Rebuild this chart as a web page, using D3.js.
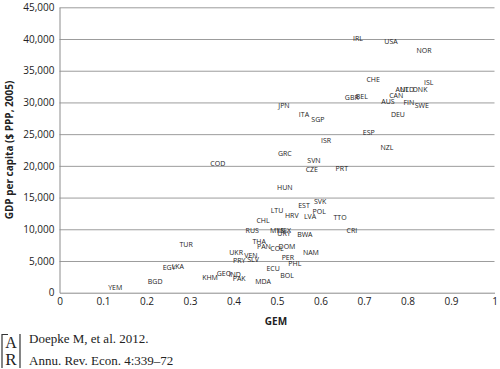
<!DOCTYPE html>
<html>
<head>
<meta charset="utf-8">
<script src="https://cdn.jsdelivr.net/npm/d3@7"></script>
<style>
	body { margin:0; background:#fff; }
	svg { display:block; }
</style>
</head>
<body>
<div id="chart"></div>
<script>
// country codes, GEM index, GDP per capita ($ PPP 2005)
var countries = ["IRL","USA","NOR","CHE","ISL","AUT","NLD","DNK","CAN","GBR","BEL","AUS","FIN","SWE",
	"JPN","ITA","SGP","DEU","ESP","ISR","NZL","GRC","SVN","CZE","PRT","COD","HUN","SVK","EST","POL",
	"LTU","HRV","LVA","TTO","CHL","CRI","RUS","MYS","MEX","URY","BWA","THA","PAN","COL","DOM","NAM",
	"UKR","VEN","PRY","SLV","PER","PHL","ECU","BOL","MDA","KHM","GEO","IND","PAK","TUR","EGY","LKA",
	"BGD","YEM"];
var gem = [0.686,0.762,0.838,0.721,0.849,0.788,0.799,0.829,0.774,0.672,0.695,0.755,0.803,0.833,
	0.516,0.562,0.594,0.778,0.711,0.613,0.753,0.518,0.585,0.580,0.649,0.364,0.518,0.599,0.562,0.597,
	0.500,0.534,0.576,0.645,0.468,0.672,0.443,0.500,0.516,0.516,0.564,0.459,0.470,0.500,0.523,0.578,
	0.406,0.440,0.413,0.445,0.525,0.541,0.491,0.523,0.468,0.346,0.378,0.403,0.413,0.291,0.252,0.272,
	0.220,0.128];
var gdp = [40000,39530,38160,33540,33070,31960,31960,31960,31020,30750,30900,30070,29910,29440,
	29440,28130,27230,28130,25290,23970,22820,21870,20770,19350,19500,20290,16620,14350,13780,12840,
	12930,12140,11940,11830,11420,9780,9840,9840,9840,9260,9210,8100,7250,7000,7250,6370,
	6370,5900,5050,5160,5520,4530,3850,2630,1690,2430,2950,2790,2160,7570,3940,4050,
	1730,850];
var yTicks = [0,5000,10000,15000,20000,25000,30000,35000,40000,45000];
var xTicks = [0,0.1,0.2,0.3,0.4,0.5,0.6,0.7,0.8,0.9,1];

var W = 500, H = 369;
var plot = {left:59.5, right:494.5, top:7.3, bottom:292.7};

var svg = d3.select("#chart").append("svg")
	.attr("width", W)
	.attr("height", H)
	.style("font-family", "'Open Sans', sans-serif");

var x = d3.scaleLinear().domain([0,1]).range([plot.left, plot.right]);
var y = d3.scaleLinear().domain([0,45000]).range([plot.bottom, plot.top]);

// horizontal gridlines
svg.append("g")
	.attr("transform", "translate(" + plot.left + ",0)")
	.call(d3.axisLeft(y).tickValues(yTicks.slice(1)).tickSize(-(plot.right-plot.left)).tickFormat(""))
	.call(function(g){ g.select(".domain").remove(); })
	.selectAll("line").attr("stroke", "#9c9c9c").attr("stroke-width", 1);

// y axis
var yAxis = svg.append("g")
	.attr("transform", "translate(" + plot.left + ",0)")
	.call(d3.axisLeft(y).tickValues(yTicks).tickSize(0).tickPadding(5).tickFormat(d3.format(",")));
yAxis.select(".domain").attr("stroke", "#8c8c8c");
yAxis.selectAll("text").attr("font-size", 10).attr("fill", "#222").attr("font-family", "'Open Sans', sans-serif");

// x axis
var xAxis = svg.append("g")
	.attr("transform", "translate(0," + plot.bottom + ")")
	.call(d3.axisBottom(x).tickValues(xTicks).tickSize(0).tickPadding(5).tickFormat(d3.format("")));
xAxis.select(".domain").attr("stroke", "#8c8c8c");
xAxis.selectAll("text").attr("font-size", 10).attr("fill", "#222").attr("font-family", "'Open Sans', sans-serif");

// axis titles
svg.append("text")
	.attr("x", (plot.left+plot.right)/2 - 1)
	.attr("y", 325)
	.attr("text-anchor", "middle")
	.attr("font-size", 10)
	.attr("font-weight", "bold")
	.attr("fill", "#222")
	.text("GEM");

svg.append("text")
	.attr("transform", "translate(13," + 150 + ") rotate(-90)")
	.attr("text-anchor", "middle")
	.attr("font-size", 10)
	.attr("font-weight", "bold")
	.attr("fill", "#222")
	.text("GDP per capita ($ PPP, 2005)");

// data labels in place of markers
svg.append("g").selectAll("text.lbl")
	.data(countries)
	.enter()
	.append("text")
	.attr("class", "lbl")
	.attr("x", function(d,i){ return x(gem[i]); })
	.attr("y", function(d,i){ return y(gdp[i]); })
	.attr("dy", "0.35em")
	.attr("text-anchor", "middle")
	.attr("font-size", 7)
	.attr("fill", "#222")
	.text(function(d){ return d; });

// footer: logo and citation
var logo = svg.append("g").attr("transform", "translate(1,334)");
logo.append("line").attr("x1",1).attr("x2",1).attr("y1",0).attr("y2",34).attr("stroke","#333").attr("stroke-width",1.2);
logo.append("line").attr("x1",19).attr("x2",19).attr("y1",0).attr("y2",34).attr("stroke","#333").attr("stroke-width",1.2);
logo.append("line").attr("x1",1).attr("x2",7).attr("y1",0.5).attr("y2",0.5).attr("stroke","#333");
logo.append("text").attr("x",10).attr("y",14).attr("text-anchor","middle")
	.attr("font-family","'Liberation Serif', serif").attr("font-size",16).attr("fill","#222").text("A");
logo.append("text").attr("x",10).attr("y",31).attr("text-anchor","middle")
	.attr("font-family","'Liberation Serif', serif").attr("font-size",17).attr("fill","#222").text("R");

svg.append("text")
	.attr("x", 29).attr("y", 343)
	.attr("font-family", "'Liberation Serif', serif")
	.attr("font-size", 13)
	.attr("fill", "#222")
	.text("Doepke M, et al. 2012.");
svg.append("text")
	.attr("x", 29).attr("y", 365)
	.attr("font-family", "'Liberation Serif', serif")
	.attr("font-size", 13)
	.attr("fill", "#222")
	.text("Annu. Rev. Econ. 4:339\u201372");
</script>
</body>
</html>
